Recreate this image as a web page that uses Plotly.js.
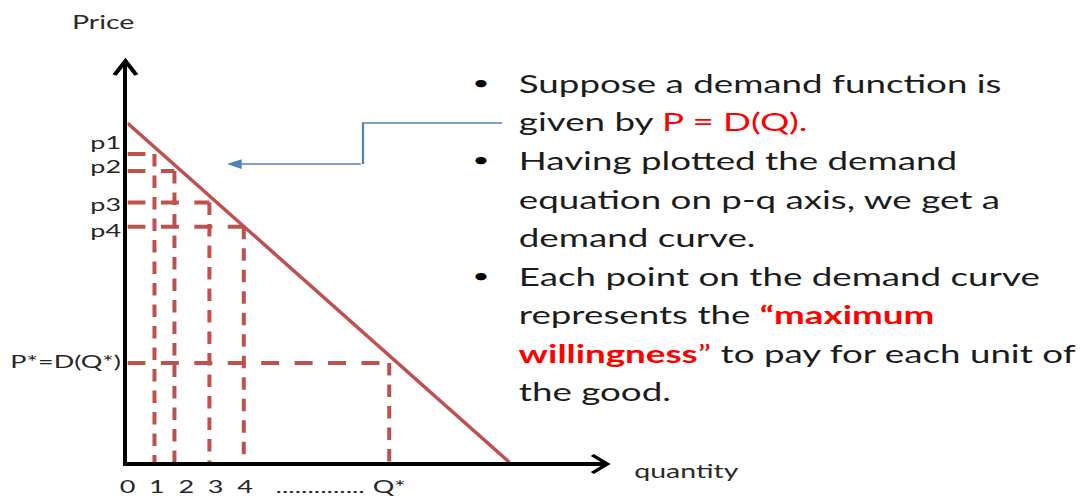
<!DOCTYPE html>
<html>
<head>
<meta charset="utf-8">
<script src="https://cdn.plot.ly/plotly-3.0.1.min.js"></script>
<style>
  html, body { margin: 0; padding: 0; background: #ffffff; overflow: hidden; }
  /* the slide is laid out narrow and widened horizontally */
  #chart { width: 723px; height: 498px; transform: scaleX(1.49931); transform-origin: 0 0; }
</style>
</head>
<body>
<div id="chart"></div>
<script>
// Quantity axis tick labels and their positions
const quantityTickLabels = ['0', '1', '2', '3', '4', '..............', 'Q*'];
const quantityTickAt = [0, 1, 2, 3, 4, 6.56, 8.91];

// Price axis tick labels and their positions
const priceTickLabels = ['p1', 'p2', 'p3', 'p4', 'P*=D(Q*)'];
const priceTickAt = [10.85, 10.03, 8.74, 7.86, 3.40];

// Marked points on the demand curve
const pointQuantity = [0.92, 1.60, 2.79, 3.96, 8.91];
const pointPrice = [10.48, 9.90, 8.83, 8.00, 3.37];

// Straight-line demand curve: price intercept to quantity intercept
const demandQuantity = [0, 12.99];
const demandPrice = [11.53, 0];

// Axis extents (arrow tips)
const quantityMax = 16.33;
const priceMax = 13.64;

// Bullet text beside the diagram
const bulletLines = [
  'Suppose a demand function is',
  'given by <span style="color:#ff0000">P = D(Q).</span>',
  'Having plotted the demand',
  'equation on p-q axis, we get a',
  'demand curve.',
  'Each point on the demand curve',
  'represents the <span style="color:#ff0000"><b>“maximum</b></span>',
  '<span style="color:#ff0000"><b>willingness</b>”</span> to pay for each unit of',
  'the good.'
];
const bulletStarts = [0, 2, 5];

// ---- layout geometry ----
const W = 723, H = 498;
const K = 1084 / W;                 // horizontal widening of the page
const M = { l: 85, r: 318, t: 61, b: 36 };
const plotW = W - M.l - M.r, plotH = H - M.t - M.b;
// page pixel -> paper fraction
const fx = X => (X / K - M.l) / plotW;
const fy = Y => (H - M.b - Y) / plotH;

const RED = '#c0504d';
const FONT = 'Lato, "Open Sans", sans-serif';
const INK = '#1c1c1c';

// dashed guides: horizontal from the price axis, vertical down to the quantity axis
const hx = [], hy = [], vx = [], vy = [];
pointQuantity.forEach((q, i) => {
  const p = pointPrice[i];
  hx.push(0, q, null); hy.push(p, p, null);
  vx.push(q, q, null); vy.push(p, 0, null);
});

const traces = [
  { x: hx, y: hy, mode: 'lines', hoverinfo: 'skip', showlegend: false,
    line: { color: RED, width: 4, dash: '12px,10.3px' } },
  { x: vx, y: vy, mode: 'lines', hoverinfo: 'skip', showlegend: false,
    line: { color: RED, width: 4 / K, dash: '12.5px,9px' } },
  { x: demandQuantity, y: demandPrice, mode: 'lines', hoverinfo: 'skip', showlegend: false,
    line: { color: RED, width: 2.8 } }
];

const annotations = [];
bulletLines.forEach((t, i) => {
  const base = 93 + 38.5 * i;
  annotations.push({ xref: 'paper', yref: 'paper', x: fx(516), y: fy(base - 9.5),
    xanchor: 'left', yanchor: 'middle', showarrow: false, text: t,
    font: { family: FONT, size: 24.5, color: INK } });
});
bulletStarts.forEach(i => {
  annotations.push({ xref: 'paper', yref: 'paper', x: fx(481), y: fy(82 + 38.5 * i),
    xanchor: 'center', yanchor: 'middle', showarrow: false, text: '•',
    font: { family: FONT, size: 20, color: '#000000' } });
});
annotations.push({ xref: 'paper', yref: 'paper', x: fx(104), y: fy(21),
  xanchor: 'center', yanchor: 'middle', showarrow: false, text: 'Price',
  font: { family: FONT, size: 19, color: '#2a2a2a' } });
annotations.push({ xref: 'paper', yref: 'paper', x: fx(631), y: fy(470),
  xanchor: 'left', yanchor: 'middle', showarrow: false, text: 'quantity',
  font: { family: FONT, size: 19, color: '#2a2a2a' } });
// pointer from the text towards the curve
annotations.push({ xref: 'paper', yref: 'paper', x: fx(227), y: fy(164),
  text: '', showarrow: true, ax: (363 - 227) / K, ay: 0,
  arrowhead: 2, arrowsize: 1.3, arrowwidth: 1.5, arrowcolor: '#4f81bd' });

const shapes = [
  // connector elbow
  { type: 'path', xref: 'paper', yref: 'paper',
    path: `M ${fx(502)} ${fy(123)} L ${fx(363)} ${fy(123)} L ${fx(363)} ${fy(164)}`,
    line: { color: '#4f81bd', width: 1.5 } },
  // arrow tip on the price axis
  { type: 'path', xref: 'paper', yref: 'paper', xsizemode: 'pixel', ysizemode: 'pixel',
    xanchor: 0, yanchor: 1,
    path: `M ${-1.33 - 7.3} -14 L -1.33 0 L ${-1.33 + 7.3} -14`,
    line: { color: '#000000', width: 3 } },
  // arrow tip on the quantity axis
  { type: 'path', xref: 'paper', yref: 'paper', xsizemode: 'pixel', ysizemode: 'pixel',
    xanchor: 1, yanchor: 0,
    path: 'M -10 7 L 0 -2 L -10 -11',
    line: { color: '#000000', width: 3 } }
];

const layout = {
  width: W, height: H,
  margin: M,
  paper_bgcolor: '#ffffff', plot_bgcolor: '#ffffff',
  showlegend: false,
  xaxis: {
    range: [0, quantityMax], showgrid: false, zeroline: false,
    showline: true, linecolor: '#000000', linewidth: 4,
    ticks: '', tickmode: 'array', tickvals: quantityTickAt, ticktext: quantityTickLabels,
    tickfont: { family: FONT, size: 18, color: '#262626' }, ticklabelstandoff: 5
  },
  yaxis: {
    range: [0, priceMax], showgrid: false, zeroline: false,
    showline: true, linecolor: '#000000', linewidth: 4 / K,
    ticks: '', tickmode: 'array', tickvals: priceTickAt, ticktext: priceTickLabels,
    tickfont: { family: FONT, size: 18, color: '#262626' }, ticklabelstandoff: -2
  },
  shapes: shapes,
  annotations: annotations
};

Plotly.newPlot('chart', traces, layout, { staticPlot: true, displayModeBar: false });
</script>
</body>
</html>
